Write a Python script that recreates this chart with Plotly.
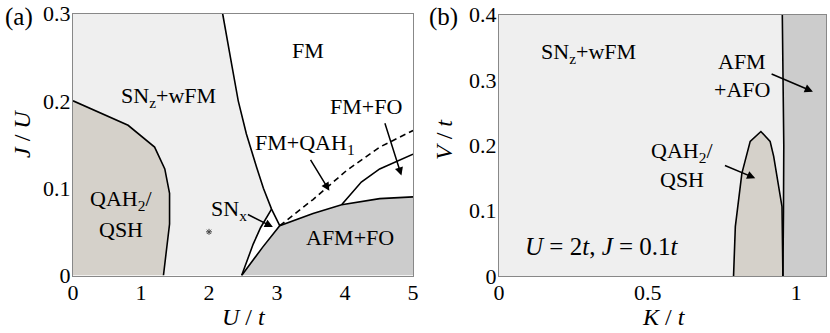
import plotly.graph_objects as go
from plotly.subplots import make_subplots

# panel (a): phase boundaries in the (U/t, J/U) plane
qah_u = [0, 0.81, 1.20, 1.35, 1.42, 1.42, 1.33]
qah_j = [0.2, 0.172, 0.147, 0.122, 0.094, 0.059, 0]

snz_u = [2.20, 2.25, 2.34, 2.43, 2.55, 2.70, 2.80, 2.92, 3.04]
snz_j = [0.30, 0.277, 0.239, 0.20, 0.162, 0.124, 0.100, 0.076, 0.057]

snx_u = [2.48, 2.56, 2.65, 2.76, 2.92]
snx_j = [0.0, 0.018, 0.036, 0.055, 0.076]

afm_u = [2.48, 2.79, 3.04, 3.53, 3.95, 4.51, 5.0]
afm_j = [0.0, 0.0325, 0.057, 0.071, 0.081, 0.088, 0.090]

fmfo_u = [3.95, 4.24, 4.51, 5.0]
fmfo_j = [0.081, 0.107, 0.122, 0.139]

qah1_u = [3.04, 3.53, 4.02, 4.51, 5.0]
qah1_j = [0.057, 0.087, 0.120, 0.147, 0.166]

star_u = [2.0]
star_j = [0.05]

# panel (b): (K/t, V/t) plane at U=2t, J=0.1t
afo_k = [0.953, 0.958, 0.957, 0.955]
afo_v = [0.4, 0.2, 0.1, 0.0]

dome_k = [0.789, 0.795, 0.817, 0.845, 0.881, 0.912, 0.924, 0.940, 0.952]
dome_v = [0.0, 0.0755, 0.157, 0.206, 0.221, 0.206, 0.183, 0.142, 0.106]

LIGHT = "#efefef"
TAN = "#d5d1ca"
GRAY = "#cccccc"
FONT = "Liberation Serif"

fig = make_subplots(rows=1, cols=2)

def line(x, y, col, dash="solid"):
    fig.add_trace(go.Scatter(x=x, y=y, mode="lines", line=dict(color="black", width=1.6, dash=dash),
                             hoverinfo="skip"), row=1, col=col)

def patch(x, y, color, col):
    fig.add_trace(go.Scatter(x=x, y=y, mode="lines", fill="toself", fillcolor=color,
                             line=dict(width=0), hoverinfo="skip"), row=1, col=col)

# (a) filled regions
patch([0] + snz_u[:8] + snx_u[::-1] + [0], [0.3] + snz_j[:8] + snx_j[::-1] + [0], LIGHT, 1)
patch(qah_u + [0], qah_j + [0], TAN, 1)
patch(afm_u + [5, afm_u[0]], afm_j + [0, 0], GRAY, 1)

for x, y in [(qah_u, qah_j), (snz_u, snz_j), (snx_u, snx_j), (afm_u, afm_j), (fmfo_u, fmfo_j)]:
    line(x, y, 1)
line(qah1_u, qah1_j, 1, dash="6px,4px")
fig.add_trace(go.Scatter(x=star_u, y=star_j, mode="markers",
                         marker=dict(symbol="asterisk-open", size=5, color="#444", line=dict(width=1, color="#444")),
                         hoverinfo="skip"), row=1, col=1)

# (b) filled regions
fig.add_shape(type="rect", xref="x2 domain", yref="y2 domain", x0=0, x1=1, y0=0, y1=1,
              fillcolor=LIGHT, line_width=0, layer="below")
patch(afo_k + [1.1, 1.1], afo_v + [0, 0.4], GRAY, 2)
patch(dome_k + [afo_k[-1]], dome_v + [0], TAN, 2)
line(afo_k, afo_v, 2)
line(dome_k + [afo_k[-1]], dome_v + [0], 2)

axis_style = dict(showgrid=False, zeroline=False, showline=True, mirror=True, linecolor="#888",
                  linewidth=1, ticks="", automargin=False,
                  tickfont=dict(family=FONT, size=22, color="black"))
fig.update_xaxes(axis_style, ticklabelstandoff=-3)
fig.update_yaxes(axis_style, ticklabelstandoff=-3)
fig.update_xaxes(range=[0, 5], tickvals=[0, 1, 2, 3, 4, 5], domain=[73 / 830, 413 / 830], row=1, col=1)
fig.update_yaxes(range=[0, 0.3], tickvals=[0, 0.1, 0.2, 0.3], ticktext=["0", "0.1", "0.2", "0.3"],
                 domain=[1 - 275.5 / 333, 1 - 13.5 / 333], row=1, col=1)
fig.update_xaxes(range=[0, 1.1], tickvals=[0, 0.5, 1], ticktext=["0", "0.5", "1"],
                 domain=[499 / 830, 826 / 830], row=1, col=2)
fig.update_yaxes(range=[0, 0.4], tickvals=[0, 0.1, 0.2, 0.3, 0.4], ticktext=["0", "0.1", "0.2", "0.3", "0.4"],
                 domain=[1 - 276 / 333, 1 - 14.5 / 333], row=1, col=2)

def text(x, y, s, xref="x", yref="y", size=22, xanchor="center", **kw):
    fig.add_annotation(x=x, y=y, xref=xref, yref=yref, text=s, showarrow=False,
                       xanchor=xanchor, yanchor="middle",
                       font=dict(family=FONT, size=size, color="black"), **kw)

def arrow(x0, y0, x1, y1, xref="x", yref="y"):
    fig.add_annotation(x=x1, y=y1, ax=x0, ay=y0, xref=xref, yref=yref, axref=xref, ayref=yref,
                       text="", showarrow=True, arrowhead=2, arrowsize=1.1, arrowwidth=1.5, arrowcolor="black")

# (a) labels
text(3.46, 0.258, "FM")
text(1.40, 0.204, "SN<sub>z</sub>+wFM")
text(4.31, 0.193, "FM+FO")
text(3.41, 0.151, "FM+QAH<sub>1</sub>")
text(0.71, 0.086, "QAH<sub>2</sub>/")
text(0.71, 0.053, "QSH")
text(2.30, 0.075, "SN<sub>x</sub>")
text(4.07, 0.044, "AFM+FO")
arrow(2.55, 0.0707, 2.94, 0.0554)
arrow(3.48, 0.134, 3.77, 0.097)
arrow(4.58, 0.176, 4.83, 0.1145)

# (b) labels
text(0.30, 0.341, "SN<sub>z</sub>+wFM", "x2", "y2")
text(0.817, 0.328, "AFM", "x2", "y2")
text(0.817, 0.285, "+AFO", "x2", "y2")
text(0.615, 0.190, "QAH<sub>2</sub>/", "x2", "y2")
text(0.615, 0.147, "QSH", "x2", "y2")
text(0.346, 0.045, "<i>U</i> = 2<i>t</i>, <i>J</i> = 0.1<i>t</i>", "x2", "y2", size=25)
arrow(0.912, 0.310, 1.056, 0.282, "x2", "y2")
arrow(0.755, 0.170, 0.862, 0.1495, "x2", "y2")

# panel tags and axis titles
text(3 / 830, 1 - 17 / 333, "(a)", "paper", "paper", size=25, xanchor="left")
text(427 / 830, 1 - 17 / 333, "(b)", "paper", "paper", size=25, xanchor="left")
text(244 / 830, 1 - 317 / 333, "<i>U</i> / <i>t</i>", "paper", "paper", size=24)
text(664 / 830, 1 - 317 / 333, "<i>K</i> / <i>t</i>", "paper", "paper", size=24)
text(22 / 830, 1 - 134 / 333, "<i>J</i> / <i>U</i>", "paper", "paper", size=24, textangle=-90)
text(444 / 830, 1 - 140 / 333, "<i>V</i> / <i>t</i>", "paper", "paper", size=24, textangle=-90)

fig.update_layout(width=830, height=333, margin=dict(l=0, r=0, t=0, b=0), showlegend=False,
                  plot_bgcolor="white", paper_bgcolor="white")
fig.write_html("out.html", config={"displayModeBar": False},
               post_script="document.body.style.margin='0';")
